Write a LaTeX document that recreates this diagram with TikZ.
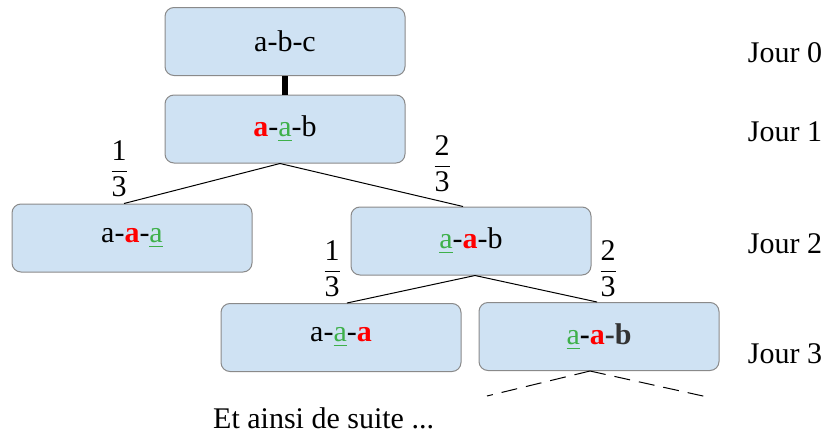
\documentclass[tikz,border=0pt]{standalone}
\usepackage{amsmath}
\usepackage{fontspec}
\setmainfont{Liberation Serif}
\definecolor{boxblue}{HTML}{CFE2F3}
\definecolor{boxgray}{HTML}{8A8A8A}
\definecolor{grn}{HTML}{3EB04A}
\definecolor{dgray}{HTML}{333333}
\newcommand\rb[1]{{\color{red}\bfseries #1}}
\newcommand\gu[1]{{\color{grn}\underline{#1}}}
\newcommand\fr[2]{$\displaystyle\genfrac{}{}{1.6pt}{0}{\textrm{#1}}{\textrm{#2}}$}
\tikzset{
  statebox/.style={draw=boxgray, line width=1pt, fill=boxblue, rounded corners=9pt,
    minimum width=240pt, minimum height=68pt, inner sep=0pt,
    font=\fontsize{30}{36}\selectfont},
  big/.style={font=\fontsize{30}{36}\selectfont, inner sep=0pt},
  edge/.style={line width=1pt},
}
\begin{document}
\begin{tikzpicture}[x=1pt,y=-1pt]
\useasboundingbox (0,0) rectangle (830,434);
\node[statebox] (b0) at (285,41.5) {a-b-c};
\node[statebox] (b1) at (285,129) {\rb{a}-\gu{a}-b};
\node[statebox] (b2l) at (132,238) {a-\rb{a}-\gu{a}};
\node[statebox] (b2r) at (471,241) {\gu{a}-\rb{a}-b};
\node[statebox] (b3l) at (341,337.5) {a-\gu{a}-\rb{a}};
\node[statebox] (b3r) at (599,336.5) {\gu{a}{\bfseries-}\rb{a}{\color{dgray}\bfseries-b}};

\draw[line width=6pt] (b0.south) -- (b1.north);
\draw[edge] ([xshift=-5pt]b1.south) -- ([xshift=-8pt]b2l.north);
\draw[edge] ([xshift=-5pt]b1.south) -- ([xshift=-8pt]b2r.north);
\draw[edge] ([xshift=4pt]b2r.south) -- ([xshift=6pt]b3l.north);
\draw[edge] ([xshift=4pt]b2r.south) -- ([xshift=-2pt]b3r.north);
\coordinate (dl) at (487,396);
\coordinate (dr) at (712,398);
\draw[edge, dash pattern=on 16pt off 9pt] ([xshift=-9pt]b3r.south) -- (dl);
\draw[edge, dash pattern=on 16pt off 9pt] ([xshift=-9pt]b3r.south) -- (dr);

\node[big] (f1) at (119,169) {\fr{1}{3}};
\node[big] (f2) at (442,164) {\fr{2}{3}};
\node[big] (f3) at (332,269) {\fr{1}{3}};
\node[big] (f4) at (608,269) {\fr{2}{3}};

\node[big, anchor=base] (j0) at (785,62) {Jour 0};
\node[big, anchor=base] (j1) at (785,141) {Jour 1};
\node[big, anchor=base] (j2) at (785,253) {Jour 2};
\node[big, anchor=base] (j3) at (785,363) {Jour 3};
\node[big, anchor=base west] (etc) at (213,428) {Et ainsi de suite ...};
\end{tikzpicture}
\end{document}
